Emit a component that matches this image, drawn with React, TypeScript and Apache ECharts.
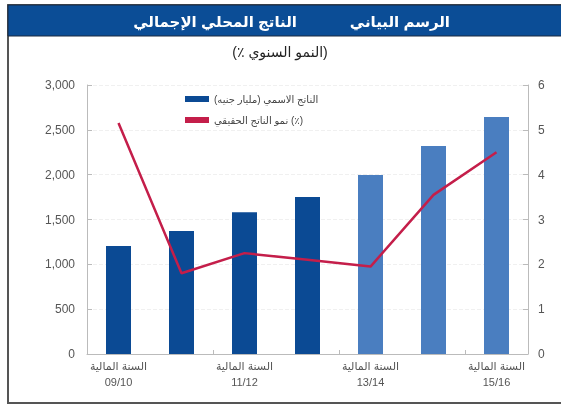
import React, { useEffect, useRef } from "react";
import * as echarts from "echarts";

const categories = ["09/10", "10/11", "11/12", "12/13", "13/14", "14/15", "15/16"];
const nominalGdp = [1204, 1372, 1580, 1752, 1996, 2320, 2643];
const realGrowth = [5.15, 1.8, 2.25, 2.1, 1.95, 3.55, 4.5];
const barColors = ["#0b4a94", "#0b4a94", "#0b4a94", "#0b4a94", "#4a7ec0", "#4a7ec0", "#4a7ec0"];
const yearPrefix = "السنة المالية";
const titleRight = "الرسم البياني";
const titleLeft = "الناتج المحلي الإجمالي";
const subtitle = "(٪ النمو السنوي)";
const legendBar = "الناتج الاسمي (مليار جنيه)";
const legendLine = "نمو الناتج الحقيقي (٪)";

const FONT = "'Liberation Sans', 'DejaVu Sans', sans-serif";

export default function App() {
  const ref = useRef<HTMLDivElement>(null);
  useEffect(() => {
    const chart = echarts.init(ref.current!, null, { renderer: "svg" });
    chart.setOption({
      animation: false,
      textStyle: { fontFamily: FONT },
      graphic: [
        { type: "rect", shape: { x: 8, y: 5, width: 570, height: 398 }, style: { fill: "#fff", stroke: "#555", lineWidth: 2 }, z: -10 },
        { type: "rect", shape: { x: 8, y: 5, width: 570, height: 31 }, style: { fill: "#0b4d96", stroke: "#1a2a40", lineWidth: 1 }, z: -5 },
        { type: "text", x: 450, y: 21, style: { text: titleRight, fill: "#fff", font: "bold 15px " + FONT, align: "right", verticalAlign: "middle" } },
        { type: "text", x: 297, y: 21, style: { text: titleLeft, fill: "#fff", font: "bold 15px " + FONT, align: "right", verticalAlign: "middle" } },
        { type: "text", x: 280, y: 52, style: { text: subtitle, fill: "#222", font: "14px " + FONT, align: "center", verticalAlign: "middle" } },
      ],
      legend: {
        orient: "vertical",
        left: 180,
        top: 89,
        itemGap: 11,
        itemWidth: 24,
        itemHeight: 6,
        textStyle: { fontSize: 10, color: "#444", fontFamily: FONT },
        data: [
          { name: legendBar, icon: "rect", itemStyle: { color: "#0b4a94" } },
          { name: legendLine, icon: "rect", itemStyle: { color: "#c41e4a" } },
        ],
      },
      grid: { left: 87, right: 33, top: 85, bottom: 57 },
      xAxis: {
        type: "category",
        data: categories,
        axisLine: { lineStyle: { color: "#bbb" } },
        axisTick: { show: true, inside: true, length: 4, lineStyle: { color: "#bbb" } },
        axisLabel: {
          interval: 1,
          color: "#555",
          fontSize: 11,
          lineHeight: 16,
          margin: 4,
          formatter: (v: string) => yearPrefix + "\n" + v,
        },
      },
      yAxis: [
        {
          type: "value",
          min: 0,
          max: 3000,
          interval: 500,
          axisLine: { show: true, lineStyle: { color: "#bbb" } },
          axisTick: { show: true, inside: true, length: 5, lineStyle: { color: "#bbb" } },
          axisLabel: {
            color: "#555",
            fontSize: 12,
            margin: 12,
            formatter: (v: number) => v.toLocaleString("en-US"),
          },
          splitLine: { show: true, lineStyle: { color: "#f0f0f0", type: "dashed" } },
        },
        {
          type: "value",
          min: 0,
          max: 6,
          interval: 1,
          axisLine: { show: true, lineStyle: { color: "#bbb" } },
          axisTick: { show: true, inside: true, length: 5, lineStyle: { color: "#bbb" } },
          axisLabel: { color: "#555", fontSize: 12, margin: 10 },
          splitLine: { show: false },
        },
      ],
      series: [
        {
          name: legendBar,
          type: "bar",
          barWidth: 25,
          data: nominalGdp.map((v, i) => ({ value: v, itemStyle: { color: barColors[i] } })),
          itemStyle: { color: "#0b4a94" },
        },
        {
          name: legendLine,
          type: "line",
          yAxisIndex: 1,
          data: realGrowth,
          symbol: "none",
          lineStyle: { color: "#c41e4a", width: 2.5 },
          itemStyle: { color: "#c41e4a" },
        },
      ],
    });
    return () => chart.dispose();
  }, []);
  return <div ref={ref} style={{ position: "fixed", left: 0, top: 0, width: 561, height: 411 }} />;
}
